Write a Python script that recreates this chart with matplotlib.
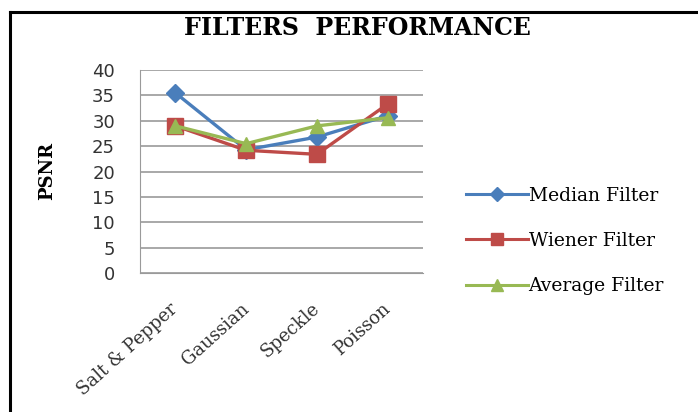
import matplotlib.pyplot as plt
from matplotlib.lines import Line2D

categories = ['Salt & Pepper', 'Gaussian', 'Speckle', 'Poisson']
median_filter = [35.5, 24.3, 26.8, 31.0]
wiener_filter = [29.0, 24.2, 23.4, 33.3]
average_filter = [29.0, 25.5, 29.0, 30.6]
series_names = ['Median Filter', 'Wiener Filter', 'Average Filter']
yticks = [0, 5, 10, 15, 20, 25, 30, 35, 40]

colors = ['#4A7EBB', '#BE4B48', '#98B954']
markers = ['D', 's', '^']
sizes = [9, 11, 10]

fig = plt.figure(figsize=(6.98, 4.12), dpi=100)
ax = fig.add_axes([0.2006, 0.337, 0.4054, 0.493])

x = range(len(categories))
for vals, c, m, s in zip([median_filter, wiener_filter, average_filter], colors, markers, sizes):
    ax.plot(x, vals, color=c, marker=m, markersize=s, linewidth=2.4, zorder=3)

ax.set_xlim(-0.5, len(categories) - 0.5)
ax.set_ylim(0, 40)
ax.set_yticks(yticks)
ax.yaxis.grid(True, color='#9a9a9a', linewidth=1.2)
ax.set_axisbelow(True)
for side in ['top', 'right']:
    ax.spines[side].set_visible(False)
ax.spines['left'].set_color('#9a9a9a')
ax.spines['bottom'].set_color('#9a9a9a')
ax.tick_params(length=0)
ax.tick_params(axis='y', pad=18)
ax.tick_params(axis='x', pad=24)

ax.set_xticks(list(x))
ax.set_xticklabels(categories, rotation=42, ha='right', va='center', rotation_mode='anchor',
                   family='DejaVu Serif', fontsize=13, color='#333333')
for lab in ax.get_yticklabels():
    lab.set_family('DejaVu Sans')
    lab.set_fontsize(13)
    lab.set_color('#333333')

fig.text(0.067, 0.585, 'PSNR', rotation=90, ha='center', va='center',
         family='DejaVu Serif', fontweight='bold', fontsize=13)
fig.text(0.512, 0.932, 'FILTERS  PERFORMANCE', ha='center', va='center',
         family='DejaVu Serif', fontweight='bold', fontsize=17)

handles = [Line2D([0], [0], color=c, marker=m, markersize=s * 0.8, linewidth=2.2)
           for c, m, s in zip(colors, markers, sizes)]
fig.legend(handles, series_names, loc='center left', bbox_to_anchor=(0.643, 0.415),
           frameon=False, handlelength=3.3, handletextpad=0.05, labelspacing=1.45,
           prop={'family': 'DejaVu Serif', 'size': 13.5})

# page border
fig.add_artist(Line2D([0.0143, 0.0143], [0, 0.971], color='black', linewidth=2.2))
fig.add_artist(Line2D([0.0143, 1.0], [0.971, 0.971], color='black', linewidth=2.2))

fig.savefig('out.png', dpi=100)
